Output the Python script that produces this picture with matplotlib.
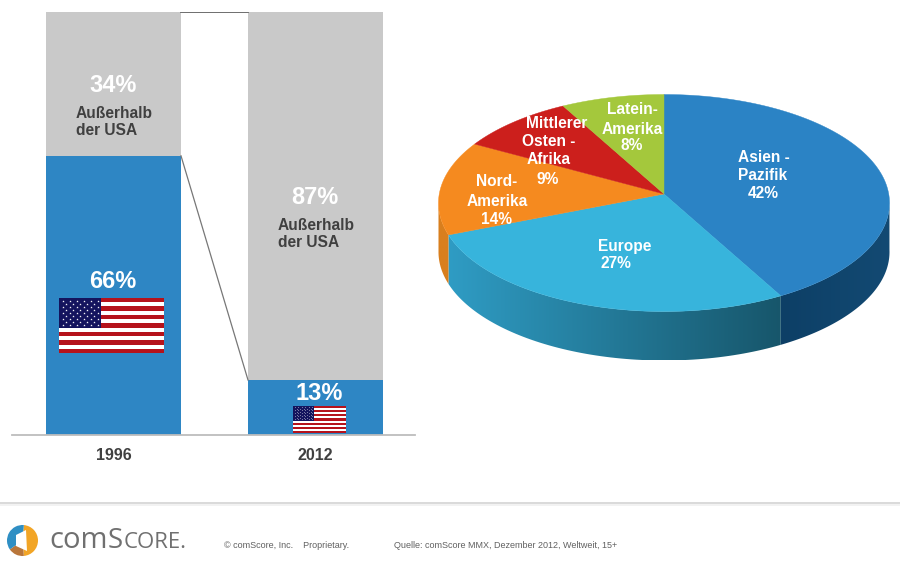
import numpy as np
import matplotlib
matplotlib.use("Agg")
import matplotlib.pyplot as plt
from matplotlib.patches import Polygon, Rectangle, Wedge
from matplotlib.colors import LinearSegmentedColormap

plt.rcParams['font.family'] = ['Liberation Sans', 'DejaVu Sans']

W, H = 900, 563

# Balken
years = ['1996', '2012']
usa = [66, 13]
outside = [34, 87]

# Kreis
regions = ['Asien -\nPazifik', 'Europe', 'Nord-\nAmerika', 'Mittlerer\nOsten -\nAfrika', 'Latein-\nAmerika']
shares = [42, 27, 14, 9, 8]
top_colors = ['#2b83c5', '#37b4dc', '#f58a1f', '#cc1f1c', '#a4c83c']

BLUE = '#2e86c4'
GRAY = '#c9c9c9'


def px_axes(fig, left, top, right, bottom):
    # Achsen ueber Pixelkoordinaten der Vorlage platzieren
    return fig.add_axes([left / W, 1 - bottom / H, (right - left) / W, (bottom - top) / H])


def draw_flag(ax, x, y, w, h):
    stripe = h / 13
    ax.add_patch(Rectangle((x, y), w, h, color='white', lw=0))
    for i in range(0, 13, 2):
        ax.add_patch(Rectangle((x, y + i * stripe), w, stripe, color='#b5121b', lw=0))
    cw, ch = w * 0.4, stripe * 7
    ax.add_patch(Rectangle((x, y), cw, ch, color='#14145e', lw=0))
    sx, sy = [], []
    for r in range(9):
        n = 6 if r % 2 == 0 else 5
        off = 1 if r % 2 == 0 else 2
        for c in range(n):
            sx.append(x + cw * (off + 2 * c) / 12)
            sy.append(y + ch * (r + 1) / 10)
    ax.scatter(sx, sy, s=(w / 105) ** 2 * 3.2, c='white', marker='*', linewidths=0)


fig = plt.figure(figsize=(W / 100, H / 100), dpi=100, facecolor='white')

# --- Balken links ---
ax = px_axes(fig, 12, 12, 415, 435)
x = np.arange(len(years))
bw = 135 / 202
ax.bar(x, usa, bw, color=BLUE)
ax.bar(x, outside, bw, bottom=usa, color=GRAY)
ax.plot([bw / 2, 1 - bw / 2], [usa[0], usa[1]], color='#777777', lw=0.9)
ax.plot([bw / 2, 1 - bw / 2], [100, 100], color='#555555', lw=1.2)
ax.set_xlim(-101.5 / 202, 301.5 / 202)
ax.set_ylim(0, 100)
for s in ['top', 'left', 'right']:
    ax.spines[s].set_visible(False)
ax.spines['bottom'].set_color('#bdbdbd')
ax.spines['bottom'].set_linewidth(1.3)
ax.set_yticks([])
ax.set_xticks(x)
ax.set_xticklabels(years, fontsize=11.5, fontweight='bold', color='#404040')
ax.tick_params(axis='x', length=0, pad=9)
ax.patch.set_alpha(0)

# --- Kreis rechts ---
pie = px_axes(fig, 414, 70, 914, 375)
a, b = 225.5, 108.5
cx, cy = 664, 203
k = 0.083  # Perspektive: der Mittelpunkt liegt oberhalb der Ellipsenmitte
depth = 49
pie.axis('off')


def warp(t):
    # Kreiswinkel -> Winkel auf der perspektivisch gekippten Ellipse
    u, v = np.cos(t), np.sin(t)
    den = 1 + k * v
    return np.unwrap(np.arctan2((v + k) / den, u * np.sqrt(1 - k * k) / den))


def on_ellipse(t):
    return cx + a * np.cos(t), cy - b * np.sin(t)


edges = np.radians(90 - 360 * np.concatenate([[0], np.cumsum(shares)]) / sum(shares))
seen = warp(edges)
apex = (cx, cy - b * k)

# Seitenwand
wall = [('#0d3f66', '#134a73', seen[1], 0.02),
        ('#2f9cc4', '#17566b', seen[2], seen[1]),
        ('#d97f1e', '#d97f1e', np.radians(-180), seen[2])]
for c_left, c_right, t0, t1 in wall:
    t = np.linspace(t0, t1, 80)
    ex, ey = on_ellipse(t)
    pts = np.column_stack([np.r_[ex, ex[::-1]], np.r_[ey, ey[::-1] + depth]])
    poly = Polygon(pts, closed=True, fc='none', ec='none')
    pie.add_patch(poly)
    cmap = LinearSegmentedColormap.from_list('w', [c_left, c_right])
    im = pie.imshow(np.linspace(0, 1, 128)[None, :], cmap=cmap, aspect='auto',
                    extent=[pts[:, 0].min() - 1, pts[:, 0].max() + 1, pts[:, 1].max(), pts[:, 1].min()])
    im.set_clip_path(poly)
pie.set_xlim(414, 914)
pie.set_ylim(375, 70)

# Deckflaeche
for i, col in enumerate(top_colors):
    t = np.linspace(seen[i], seen[i + 1], 120)
    ex, ey = on_ellipse(t)
    pie.fill(np.r_[apex[0], ex], np.r_[apex[1], ey], color=col, lw=0.3)

# --- Overlay in Pixeln: Texte, Flaggen, Fusszeile ---
top = fig.add_axes([0, 0, 1, 1])
top.set_xlim(0, W)
top.set_ylim(H, 0)
top.axis('off')
top.patch.set_alpha(0)

bold = dict(color='white', fontweight='bold', ha='center', va='center')
top.text(113, 85, f'{outside[0]}%', fontsize=17, **bold)
top.text(76, 122, 'Außerhalb\nder USA', fontsize=11.2, color='#404040', fontweight='bold',
         ha='left', va='center', linespacing=1.1)
top.text(113, 282, f'{usa[0]}%', fontsize=17, **bold)
top.text(315, 198, f'{outside[1]}%', fontsize=17, **bold)
top.text(278, 234, 'Außerhalb\nder USA', fontsize=11.2, color='#404040', fontweight='bold',
         ha='left', va='center', linespacing=1.1)
top.text(319, 394, f'{usa[1]}%', fontsize=17, **bold)
draw_flag(top, 59, 298, 105, 55)
draw_flag(top, 293, 406, 53, 27)

# Zeilen der Kreisbeschriftung stehen einzeln, wie in der Vorlage leicht versetzt
label_lines = [[(764, 157), (763, 176), (763, 194)],
               [(625, 246), (616, 264)],
               [(497, 182), (497, 201), (497, 219)],
               [(557, 123), (549, 142), (549, 160), (548, 179)],
               [(632, 110), (632, 129), (632, 146)]]
for name, val, spots in zip(regions, shares, label_lines):
    for line, (lx, ly) in zip(name.split('\n') + [f'{val}%'], spots):
        top.text(lx, ly, line, fontsize=11.2, **bold)

# Fusszeile
top.plot([0, W], [503, 503], color='#d9d9d9', lw=1.4)
top.plot([0, W], [504.5, 504.5], color='#f0f0f0', lw=1.2)
top.add_patch(Wedge((22.5, 540.5), 15.5, -85, 85, color='#f2a526', lw=0))
top.add_patch(Wedge((22.5, 540.5), 15.5, 85, 145, color='#b9763a', lw=0))
top.add_patch(Wedge((22.5, 540.5), 15.5, 145, 275, color='#2f8fc4', lw=0))
top.add_patch(Polygon([(26, 530), (27, 551), (16, 546), (16, 535)], closed=True, color='white', lw=0))
logo = dict(color='#707070', family=['Open Sans', 'DejaVu Sans'], va='baseline', ha='left')
top.text(49, 548, 'com', fontsize=21, **logo)
top.text(108, 548, 'S', fontsize=20, **logo)
top.text(124, 548, 'CORE.', fontsize=16, **logo)
top.text(224, 545, '© comScore, Inc.    Proprietary.', fontsize=6.5, color='#606060', va='center', ha='left')
top.text(394, 545, 'Quelle: comScore MMX, Dezember 2012, Weltweit, 15+', fontsize=6.45, color='#606060', va='center', ha='left')

fig.savefig('out.png', dpi=100)
